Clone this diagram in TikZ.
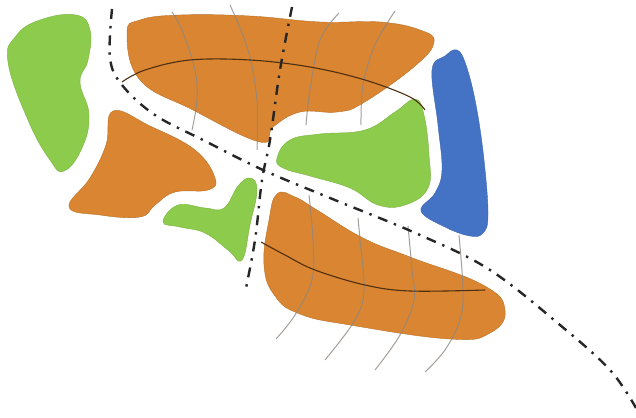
\documentclass[tikz,border=0pt]{standalone}
\tikzset{
  lobe/.style={line width=0.4pt,line join=round},
  orangelobe/.style={lobe,fill=lobeorange,draw=lobeorange!85!black},
  greenlobe/.style={lobe,fill=lobegreen,draw=lobegreen!88!black},
  bluelobe/.style={lobe,fill=lobeblue,draw=lobeblue!90!black},
  rib/.style={draw=ribgrey,line width=1pt,opacity=0.8},
  spine/.style={draw=spinedark,line width=1.1pt},
  axisline/.style={draw=axisdark,line width=2.4pt,dash pattern=on 10pt off 7pt on 2.4pt off 7pt},
}
\definecolor{lobeorange}{HTML}{D98531}
\definecolor{lobegreen}{HTML}{8CCB4B}
\definecolor{lobeblue}{HTML}{4472C4}
\definecolor{ribgrey}{HTML}{8F8780}
\definecolor{spinedark}{HTML}{4F2F10}
\definecolor{axisdark}{HTML}{262626}
\begin{document}
\begin{tikzpicture}[x=1pt,y=-1pt]
\useasboundingbox (0,0) rectangle (636,417);
% green lobes
\draw[greenlobe] plot[smooth cycle,tension=0.75] coordinates {(8,62) (16,36) (40,20) (76,15) (90,30) (88,60) (80,82) (89,115) (82,148) (64,171) (50,160) (28,120)};
\draw[greenlobe] plot[smooth cycle,tension=0.7] coordinates {(163,222) (178,205) (205,208) (224,208) (238,186) (250,178) (257,190) (250,225) (242,260) (228,250) (205,233) (180,227)};
\draw[greenlobe] plot[smooth cycle,tension=0.7] coordinates {(277,158) (290,140) (320,134) (365,130) (395,112) (415,99) (424,115) (429,155) (428,188) (405,205) (378,205) (350,188) (310,176) (283,168)};
% blue lobe
\draw[bluelobe] plot[smooth cycle,tension=0.65] coordinates {(432,70) (445,56) (457,50) (466,65) (476,105) (484,160) (488,215) (483,233) (470,236) (445,227) (421,211) (435,193) (442,170) (438,125)};
% orange lobes
\draw[orangelobe] plot[smooth cycle,tension=0.7] coordinates {(127,33) (140,20) (180,15) (250,16) (320,22) (380,22) (420,30) (434,42) (415,66) (363,103) (337,112) (300,112) (273,127) (260,142) (193,110) (140,80)};
\draw[orangelobe] plot[smooth cycle,tension=0.7] coordinates {(113,111) (150,126) (195,150) (215,178) (208,190) (175,192) (155,205) (140,217) (100,215) (69,207) (90,178) (106,145)};
\draw[orangelobe] plot[smooth cycle,tension=0.75] coordinates {(277,194) (295,197) (317,210) (363,238) (410,257) (483,285) (505,310) (490,333) (450,339) (350,325) (300,314) (275,296) (264,265) (269,220)};
% ribs
\draw[rib] plot[smooth,tension=0.6] coordinates {(172,12) (182,30) (195,70) (197,100) (192,130)};
\draw[rib] plot[smooth,tension=0.6] coordinates {(230,5) (248,50) (257,100) (257,150)};
\draw[rib] plot[smooth,tension=0.6] coordinates {(339,13) (320,40) (310,90) (306,125)};
\draw[rib] plot[smooth,tension=0.6] coordinates {(395,11) (375,45) (363,85) (361,125)};
\draw[rib] plot[smooth,tension=0.6] coordinates {(309,195) (313,240) (312,280) (295,315) (276,339)};
\draw[rib] plot[smooth,tension=0.6] coordinates {(358,218) (360,240) (364,290) (355,320) (325,360)};
\draw[rib] plot[smooth,tension=0.6] coordinates {(408,226) (412,270) (414,300) (400,335) (375,370)};
\draw[rib] plot[smooth,tension=0.6] coordinates {(459,235) (463,290) (460,320) (445,350) (425,372)};
% spines
\draw[spine] plot[smooth,tension=0.6] coordinates {(122,82) (145,70) (190,60) (250,60) (310,67) (365,80) (410,97) (425,110)};
\draw[spine] plot[smooth,tension=0.6] coordinates {(261,242) (285,255) (315,270) (365,285) (410,291) (485,290)};
% axes
\draw[axisline] plot[smooth,tension=0.6] coordinates {(112,9) (110,58) (122,85) (155,115) (205,141) (263,170) (330,198) (420,235) (490,270) (560,325) (610,370) (636,408)};
\draw[axisline] plot[smooth,tension=0.6] coordinates {(292,7) (280,70) (270,140) (262,180) (255,240) (245,293)};
\end{tikzpicture}
\end{document}
